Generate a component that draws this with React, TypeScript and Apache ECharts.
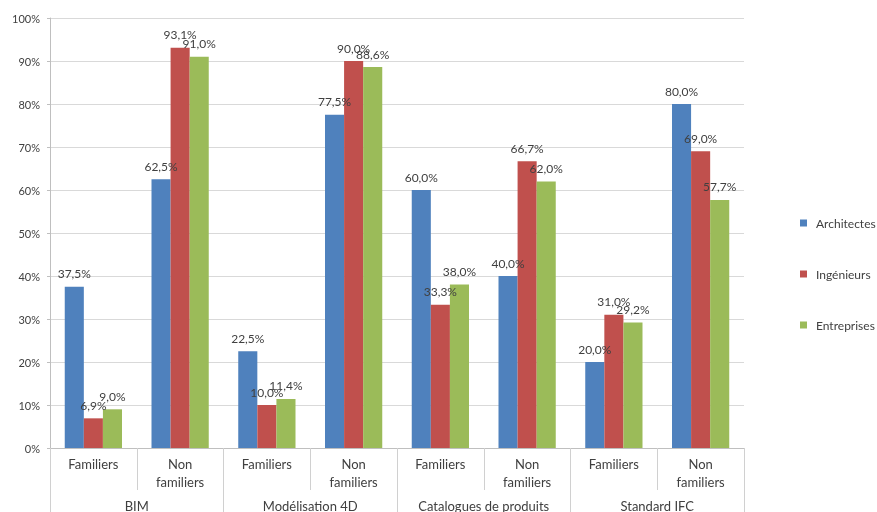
import React, { useEffect, useRef } from "react";
import * as echarts from "echarts";

const categories = ["Familiers", "Non\nfamiliers", "Familiers", "Non\nfamiliers", "Familiers", "Non\nfamiliers", "Familiers", "Non\nfamiliers"];
const groups = ["BIM", "Modélisation 4D", "Catalogues de produits", "Standard IFC"];
const seriesNames = ["Architectes", "Ingénieurs", "Entreprises"];
const architectes = [37.5, 62.5, 22.5, 77.5, 60.0, 40.0, 20.0, 80.0];
const ingenieurs = [6.9, 93.1, 10.0, 90.0, 33.3, 66.7, 31.0, 69.0];
const entreprises = [9.0, 91.0, 11.4, 88.6, 38.0, 62.0, 29.2, 57.7];
const colors = ["#4f81bd", "#c0504d", "#9bbb59"];

const FONT = "Lato, 'Open Sans', sans-serif";
const TEXT = "#404040";

export default function App() {
  const ref = useRef<HTMLDivElement>(null);
  useEffect(() => {
    const chart = echarts.init(ref.current!, null, { renderer: "svg" });
    const values = [architectes, ingenieurs, entreprises];
    chart.setOption({
      animation: false,
      textStyle: { fontFamily: FONT },
      legend: {
        orient: "vertical",
        left: 795,
        top: 212,
        itemWidth: 7,
        itemHeight: 7,
        itemGap: 39,
        icon: "rect",
        textStyle: { fontSize: 12, color: TEXT, fontFamily: FONT, padding: [0, 0, 0, 4] },
        data: seriesNames,
      },
      grid: { left: 50, right: 133, top: 18, bottom: 62, containLabel: false },
      xAxis: [
        {
          type: "category",
          data: categories,
          axisLine: { show: true, lineStyle: { color: "#bfbfbf" } },
          axisTick: { show: true, interval: 0, length: 42, lineStyle: { color: "#d0d0d0" } },
          axisLabel: { interval: 0, margin: 7, fontSize: 13, color: TEXT, lineHeight: 18, fontFamily: FONT },
        },
        {
          type: "category",
          data: groups,
          position: "bottom",
          axisLine: { show: false },
          axisTick: { show: true, interval: 0, length: 64, lineStyle: { color: "#d0d0d0" } },
          axisLabel: { interval: 0, margin: 51, fontSize: 13, color: TEXT, fontFamily: FONT },
        },
      ],
      yAxis: {
        type: "value",
        min: 0,
        max: 100,
        interval: 10,
        axisLine: { show: true, lineStyle: { color: "#bfbfbf" } },
        axisTick: { show: true, length: 3, lineStyle: { color: "#bfbfbf" } },
        splitLine: { lineStyle: { color: "#d9d9d9" } },
        axisLabel: { formatter: "{value}%", fontSize: 11, color: TEXT, margin: 10, fontFamily: FONT },
      },
      series: seriesNames.map((name, i) => ({
        name,
        type: "bar",
        xAxisIndex: 0,
        data: values[i],
        barGap: "0%",
        barCategoryGap: "34%",
        itemStyle: { color: colors[i] },
        label: {
          show: true,
          position: "top",
          distance: 7,
          fontSize: 12,
          color: TEXT,
          fontFamily: FONT,
          formatter: (p: any) => p.value.toFixed(1).replace(".", ",") + "%",
        },
      })),
    });
    return () => chart.dispose();
  }, []);
  return <div ref={ref} style={{ position: "fixed", left: 0, top: 0, width: 877, height: 512 }} />;
}
